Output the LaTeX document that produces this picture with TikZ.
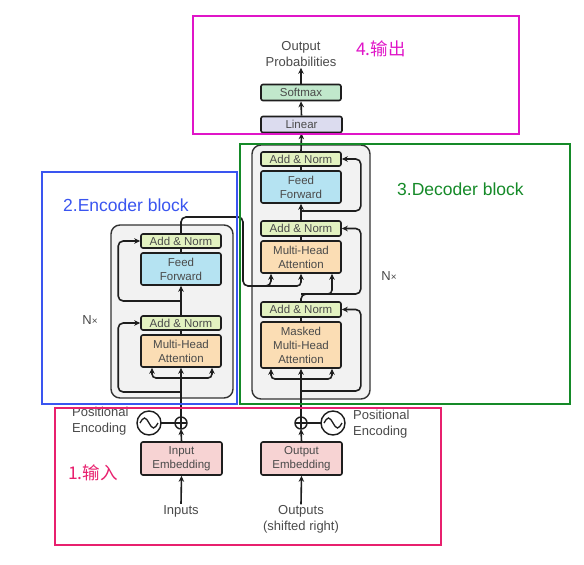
\documentclass[tikz,border=0pt]{standalone}
\usepackage{fontspec}
\setmainfont{Liberation Sans}
\newfontfamily\cjk{Noto Sans CJK SC}
\usetikzlibrary{arrows.meta}
\definecolor{linec}{HTML}{1E1E1E}
\definecolor{txt}{HTML}{4A4A4A}
\definecolor{anc}{HTML}{E3F2C1}
\definecolor{ffc}{HTML}{B5E3F2}
\definecolor{attc}{HTML}{FBDDB4}
\definecolor{embc}{HTML}{F7D3D3}
\definecolor{smc}{HTML}{C1E8CC}
\definecolor{linc}{HTML}{DCDCEF}
\definecolor{bgfill}{HTML}{F2F2F2}
\definecolor{bgline}{HTML}{333333}
\definecolor{magc}{HTML}{E015C8}
\definecolor{bluc}{HTML}{3A55F0}
\definecolor{grnc}{HTML}{158A28}
\definecolor{pinkc}{HTML}{E8206E}
\begin{document}
\begin{tikzpicture}[x=1pt,y=-1pt,
 box/.style={draw=linec, line width=1.6pt, rounded corners=2pt, minimum width=80pt, inner sep=0pt, align=center, text=txt, font=\fontsize{11.5}{14}\selectfont},
 addnorm/.style={box, fill=anc, minimum height=14pt},
 ff/.style={box, fill=ffc, minimum height=32pt},
 att/.style={box, fill=attc, minimum height=32pt},
 emb/.style={box, fill=embc, minimum height=33pt, minimum width=81pt},
 bgblock/.style={draw=bgline, fill=bgfill, line width=1.4pt, rounded corners=9pt, inner sep=0pt},
 lbl/.style={text=txt, font=\fontsize{13}{16}\selectfont, align=center, inner sep=1pt},
 arr/.style={-{Stealth[length=6pt,width=5.5pt]}, line width=1.6pt, draw=linec},
 ln/.style={line width=1.6pt, draw=linec},
 ring/.style={circle, draw=linec, line width=1.4pt, inner sep=0pt, outer sep=0pt},
 frame/.style={line width=2.5pt},
 tag/.style={anchor=west, inner sep=0pt, font=\fontsize{17.5}{18}\selectfont}
]
\useasboundingbox (0,0) rectangle (584,565);
\fill[white] (0,0) rectangle (584,565);

% ---------- encoder ----------
\node[bgblock, minimum width=122pt, minimum height=173pt] (encbg) at (172,311.5) {};
\node[addnorm] (eAN1) at (181,241) {Add \& Norm};
\node[ff] (eFF) at (181,269) {Feed\\Forward};
\node[addnorm] (eAN2) at (181,323) {Add \& Norm};
\node[att] (eMHA) at (181,351) {Multi-Head\\Attention};
\node[emb] (eEmb) at (181.5,458.5) {Input\\Embedding};
\node[ring, minimum size=12pt] (ePlus) at (181,423) {};
\node[ring, minimum size=24pt] (eSin) at (149,423) {};
\draw[line width=1.2pt, draw=linec] (ePlus.north) -- (ePlus.south) (ePlus.west) -- (ePlus.east);
\draw[line width=1.3pt, draw=linec] ([xshift=-9pt]eSin.center) sin ++(4.5,-5) cos ++(4.5,5) sin ++(4.5,5) cos ++(4.5,-5);
\node[lbl] (inp) at (181,511) {Inputs};
\node[lbl, anchor=west, align=left] (pe1) at (71,421) {Positional\\Encoding};
\node[lbl] (nx1) at (90,320) {N{\fontsize{10}{10}\selectfont ×}};

\draw[arr] (inp.north) -- (eEmb.south);
\draw[arr] (eEmb.north) -- (ePlus.south);
\draw[ln] (eSin.east) -- (ePlus.west);
\draw[arr] (ePlus.north) -- (eMHA.south);
\coordinate (eSplit) at (181,378);
\draw[arr, rounded corners=4pt] (eSplit) -| ([xshift=-29pt]eMHA.south);
\draw[arr, rounded corners=4pt] (eSplit) -| ([xshift=31pt]eMHA.south);
\coordinate (eRes1) at (181,392);
\draw[arr, rounded corners=5pt] (eRes1) -| ([xshift=-22pt]eAN2.west) -- (eAN2.west);
\draw[ln] (eMHA.north) -- (eAN2.south);
\draw[arr] (eAN2.north) -- (eFF.south);
\coordinate (eRes2) at (181,301);
\draw[arr, rounded corners=5pt] (eRes2) -| ([xshift=-22pt]eAN1.west) -- (eAN1.west);
\draw[ln] (eFF.north) -- (eAN1.south);

% ---------- decoder ----------
\node[bgblock, minimum width=118pt, minimum height=254pt] (decbg) at (311,272) {};
\node[addnorm] (dAN1) at (301,159) {Add \& Norm};
\node[ff] (dFF) at (301,187) {Feed\\Forward};
\node[addnorm, minimum height=15pt] (dAN2) at (301,228.5) {Add \& Norm};
\node[att] (dMHA) at (301,257) {Multi-Head\\Attention};
\node[addnorm, minimum height=15pt] (dAN3) at (301,309.5) {Add \& Norm};
\node[att, minimum height=46pt] (dMMHA) at (301,345) {Masked\\Multi-Head\\Attention};
\node[emb] (dEmb) at (301.5,458.5) {Output\\Embedding};
\node[ring, minimum size=12pt] (dPlus) at (301,423) {};
\node[ring, minimum size=24pt] (dSin) at (333,423) {};
\draw[line width=1.2pt, draw=linec] (dPlus.north) -- (dPlus.south) (dPlus.west) -- (dPlus.east);
\draw[line width=1.3pt, draw=linec] ([xshift=-9pt]dSin.center) sin ++(4.5,-5) cos ++(4.5,5) sin ++(4.5,5) cos ++(4.5,-5);
\node[lbl] (outs) at (301,519.5) {Outputs\\(shifted right)};
\node[lbl, anchor=west, align=left] (pe2) at (352,424) {Positional\\Encoding};
\node[lbl] (nx2) at (389,276) {N{\fontsize{10}{10}\selectfont ×}};

\draw[arr] (outs.north) -- (dEmb.south);
\draw[arr] (dEmb.north) -- (dPlus.south);
\draw[ln] (dPlus.east) -- (dSin.west);
\draw[arr] (dPlus.north) -- (dMMHA.south);
\coordinate (dSplit) at (301,379);
\draw[arr, rounded corners=4pt] (dSplit) -| ([xshift=-30pt]dMMHA.south);
\draw[arr, rounded corners=4pt] (dSplit) -| ([xshift=31pt]dMMHA.south);
\coordinate (dRes3) at (301,391);
\draw[arr, rounded corners=5pt] (dRes3) -| ([xshift=19pt]dAN3.east) -- (dAN3.east);
\draw[ln] (dMMHA.north) -- (dAN3.south);
\coordinate (dQ) at (301,294);
\draw[arr, rounded corners=5pt] (dAN3.north) -- (dQ) -| ([xshift=19pt]dAN2.east) -- (dAN2.east);
\draw[arr, rounded corners=4pt] (dQ) -| ([xshift=31pt]dMHA.south);
\draw[ln] (dMHA.north) -- (dAN2.south);
\draw[arr] (dAN2.north) -- (dFF.south);
\coordinate (dRes2) at (301,211);
\draw[arr, rounded corners=5pt] (dRes2) -| ([xshift=19pt]dAN1.east) -- (dAN1.east);
\draw[ln] (dFF.north) -- (dAN1.south);

% encoder output to decoder
\coordinate (eTop) at (243,217);
\coordinate (kv) at (243,286);
\coordinate (kv2) at (266,286);
\draw[arr, rounded corners=5pt] (eAN1.north) |- (eTop) -- (kv) -| ([xshift=-30pt]dMHA.south);
\draw[arr, rounded corners=4pt] (kv2) -| (dMHA.south);

% ---------- output head ----------
\node[box, fill=linc, minimum height=16pt, minimum width=81pt] (lin) at (301.5,124.5) {Linear};
\node[box, fill=smc, minimum height=16pt] (sm) at (301,92.5) {Softmax};
\node[lbl] (prob) at (301,54) {Output\\Probabilities};
\draw[arr] (dAN1.north) -- (lin.south);
\draw[arr] (lin.north) -- (sm.south);
\draw[arr] (sm.north) -- (prob.south);

% ---------- annotation frames ----------
\draw[frame, draw=bluc] (42,172) rectangle (237,404);
\draw[frame, draw=grnc] (240,144) rectangle (570,404);
\draw[frame, draw=pinkc] (55,408) rectangle (441,545);
\draw[frame, draw=magc] (193,16) rectangle (519,134);
\node[tag, text=magc, font=\cjk\fontsize{17.5}{18}\selectfont] (t4) at (356,49) {4.输出};
\node[tag, text=bluc] (t2) at (63,205) {2.Encoder block};
\node[tag, text=grnc] (t3) at (397,189) {3.Decoder block};
\node[tag, text=pinkc, font=\cjk\fontsize{17.5}{18}\selectfont] (t1) at (68,473) {1.输入};
\end{tikzpicture}
\end{document}
